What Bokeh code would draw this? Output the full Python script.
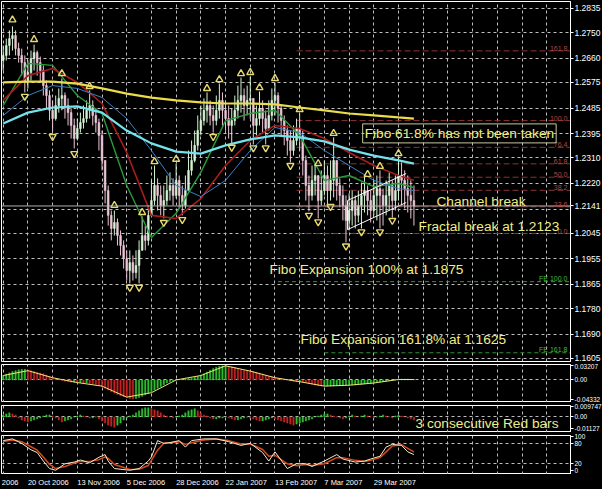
from bokeh.plotting import figure
from bokeh.models import Range1d, FixedTicker, Span, Label, ColumnDataSource, CustomJSTickFormatter
from bokeh.layouts import column
from bokeh.embed import file_html
from bokeh.resources import INLINE
from bokeh.core.properties import value

FONT = "Liberation Sans"

# ---------------- price data (daily bars) ----------------
first_open = 1.2652
closes = [1.2670,1.2705,1.2729,1.2740,1.2694,1.2670,1.2645,1.2582,1.2610,1.2659,
          1.2680,1.2645,1.2617,1.2564,1.2529,1.2477,1.2448,1.2494,1.2519,1.2529,
          1.2494,1.2469,1.2424,1.2378,1.2413,1.2434,1.2448,1.2477,1.2494,1.2459,
          1.2434,1.2389,1.2301,1.2195,1.2108,1.2062,1.2083,1.2037,1.2002,1.1956,
          1.1914,1.1942,1.1907,1.1932,1.1985,1.2037,1.2020,1.2108,1.2160,1.2213,
          1.2178,1.2143,1.2160,1.2195,1.2213,1.2178,1.2231,1.2178,1.2143,1.2195,
          1.2266,1.2301,1.2354,1.2406,1.2441,1.2477,1.2494,1.2459,1.2441,1.2477,
          1.2512,1.2477,1.2448,1.2424,1.2441,1.2477,1.2512,1.2529,1.2494,1.2512,
          1.2519,1.2424,1.2448,1.2484,1.2448,1.2413,1.2459,1.2512,1.2529,1.2484,
          1.2441,1.2406,1.2371,1.2336,1.2371,1.2413,1.2389,1.2301,1.2213,1.2178,
          1.2231,1.2248,1.2160,1.2195,1.2248,1.2195,1.2231,1.2301,1.2213,1.2178,
          1.2143,1.2090,1.2125,1.2160,1.2108,1.2143,1.2178,1.2195,1.2160,1.2125,
          1.2178,1.2202,1.2178,1.2143,1.2178,1.2213,1.2160,1.2195,1.2248,1.2231,
          1.2202,1.2178,1.2160,1.2141]
highs = [1.2705,1.2729,1.2758,1.2772,1.2758,1.2715,1.2694,1.2670,1.2652,1.2687,
         1.2708,1.2687,1.2666,1.2635,1.2582,1.2547,1.2512,1.2529,1.2554,1.2589,
         1.2540,1.2519,1.2484,1.2448,1.2448,1.2469,1.2494,1.2512,1.2547,1.2512,
         1.2484,1.2448,1.2406,1.2301,1.2213,1.2125,1.2125,1.2097,1.2055,1.2020,
         1.1985,1.1985,1.1967,1.1985,1.2020,1.2104,1.2072,1.2143,1.2231,1.2283,
         1.2238,1.2213,1.2213,1.2248,1.2259,1.2238,1.2290,1.2248,1.2213,1.2248,
         1.2336,1.2371,1.2406,1.2459,1.2494,1.2519,1.2540,1.2512,1.2494,1.2529,
         1.2571,1.2540,1.2512,1.2494,1.2484,1.2529,1.2564,1.2592,1.2554,1.2564,
         1.2596,1.2512,1.2494,1.2543,1.2512,1.2477,1.2512,1.2554,1.2575,1.2540,
         1.2494,1.2459,1.2424,1.2406,1.2424,1.2448,1.2466,1.2406,1.2318,1.2248,
         1.2283,1.2290,1.2248,1.2266,1.2301,1.2283,1.2301,1.2382,1.2301,1.2238,
         1.2213,1.2178,1.2185,1.2195,1.2178,1.2195,1.2223,1.2248,1.2213,1.2195,
         1.2231,1.2248,1.2266,1.2202,1.2231,1.2259,1.2231,1.2248,1.2311,1.2294,
         1.2266,1.2248,1.2231,1.2213]
lows = [1.2617,1.2652,1.2670,1.2687,1.2670,1.2645,1.2599,1.2540,1.2554,1.2582,
        1.2617,1.2599,1.2575,1.2529,1.2484,1.2441,1.2403,1.2441,1.2469,1.2477,
        1.2448,1.2424,1.2378,1.2343,1.2371,1.2399,1.2413,1.2434,1.2448,1.2424,
        1.2399,1.2336,1.2266,1.2150,1.2072,1.2020,1.2037,1.2002,1.1967,1.1921,
        1.1879,1.1869,1.1879,1.1886,1.1869,1.1985,1.1985,1.2002,1.2108,1.2143,
        1.2125,1.2108,1.2097,1.2143,1.2160,1.2143,1.2167,1.2132,1.2108,1.2132,
        1.2195,1.2248,1.2294,1.2336,1.2389,1.2424,1.2434,1.2424,1.2399,1.2424,
        1.2448,1.2424,1.2406,1.2378,1.2361,1.2424,1.2448,1.2469,1.2441,1.2459,
        1.2448,1.2357,1.2389,1.2424,1.2399,1.2357,1.2406,1.2441,1.2459,1.2434,
        1.2389,1.2354,1.2318,1.2294,1.2318,1.2354,1.2336,1.2248,1.2160,1.2122,
        1.2160,1.2178,1.2097,1.2143,1.2178,1.2136,1.2160,1.2171,1.2160,1.2136,
        1.2090,1.2013,1.2055,1.2072,1.2062,1.2083,1.2062,1.2118,1.2108,1.2083,
        1.2108,1.2090,1.2062,1.2072,1.2108,1.2125,1.2100,1.2125,1.2160,1.2143,
        1.2132,1.2118,1.2097,1.2072]

# moving averages, read at every 8th bar
ma_bars = [0, 8, 16, 24, 32, 40, 48, 56, 64, 72, 80, 88, 96, 104, 112, 120, 128, 133]
ma_yellow = [1.2575,1.2578,1.2578,1.2571,1.2554,1.2536,1.2522,1.2512,1.2505,1.2501,1.2501,1.2498,1.2487,1.2477,1.2466,1.2459,1.2452,1.2448]
ma_cyan = [1.2431,1.2469,1.2487,1.2491,1.2469,1.2406,1.2361,1.2332,1.2325,1.2354,1.2375,1.2389,1.2382,1.2368,1.2339,1.2318,1.2301,1.2290]
ma_blue = [1.2459,1.2529,1.2564,1.2554,1.2522,1.2448,1.2336,1.2213,1.2174,1.2231,1.2336,1.2417,1.2399,1.2336,1.2283,1.2231,1.2202,1.2195]
ma_red = [1.2512,1.2599,1.2624,1.2575,1.2501,1.2329,1.2108,1.2097,1.2167,1.2283,1.2371,1.2424,1.2413,1.2378,1.2329,1.2283,1.2248,1.2231]
ma_green = [1.2494,1.2642,1.2635,1.2529,1.2466,1.2213,1.2030,1.2115,1.2259,1.2441,1.2466,1.2477,1.2389,1.2231,1.2248,1.2209,1.2220,1.2206]

# fractals
up_frac_bars = [3, 10, 19, 28, 36, 45, 49, 56, 66, 70, 77, 80, 83, 88, 96, 102, 107, 118, 122, 128]
up_frac_price = [1.2795,1.2726,1.2606,1.2561,1.2143,1.2118,1.2297,1.2305,1.2554,1.2585,1.2606,1.2610,1.2557,1.2589,1.2480,1.2290,1.2396,1.2252,1.2280,1.2325]
dn_frac_bars = [7, 16, 23, 41, 44, 52, 58, 68, 74, 81, 85, 93, 99, 102, 106, 111, 116, 122, 126]
dn_frac_price = [1.2526,1.2385,1.2325,1.1855,1.1855,1.2083,1.2093,1.2385,1.2347,1.2345,1.2345,1.2283,1.2108,1.2085,1.2139,1.2000,1.2050,1.2050,1.2090]

# Fibonacci retracement & expansion
fibo_labels = ["161.8", "100.0", "76.4", "61.8", "50.0", "38.2", "23.6", "0.0"]
fibo_prices = [1.2686, 1.2441, 1.2347, 1.2289, 1.2242, 1.2196, 1.2138, 1.2044]
fibo_start = 95
fe_labels = ["FE 100.0", "FE 161.8"]
fe_prices = [1.1875, 1.1625]
fe_start = [89, 104]

# channel
channel_bars = [111.5, 130.5]
channel_upper = [1.2160, 1.2255]
channel_lower = [1.2058, 1.2153]

bid_price = 1.2141
grid_price_ticks = [1.2835,1.2750,1.2660,1.2575,1.2485,1.2395,1.2310,1.2220,1.2130,1.2045,1.1955,1.1865,1.1780,1.1690,1.1605]
axis_price_ticks = [1.2835,1.2750,1.2660,1.2575,1.2485,1.2395,1.2310,1.2220,1.2141,1.2045,1.1955,1.1865,1.1780,1.1690,1.1605]

# MACD
macd_hist = [0.010,0.013,0.016,0.019,0.021,0.023,0.024,0.024,
             0.022,0.021,0.019,0.017,0.016,0.014,0.011,0.008,
             0.005,0.003,0.001,-0.001,-0.003,-0.004,-0.005,-0.005,
             -0.006,-0.006,-0.007,-0.007,-0.008,-0.009,-0.010,-0.012,
             -0.015,-0.019,-0.023,-0.027,-0.030,-0.033,-0.036,-0.038,
             -0.040,-0.042,-0.043,-0.042,-0.040,-0.037,-0.034,-0.031,
             -0.027,-0.023,-0.019,-0.015,-0.011,-0.007,-0.004,-0.002,
             0.000,0.001,0.001,0.002,0.003,0.004,0.006,0.008,
             0.011,0.014,0.018,0.022,0.026,0.029,0.031,0.032,
             0.032,0.031,0.030,0.028,0.026,0.024,0.022,0.021,
             0.020,0.019,0.017,0.015,0.013,0.010,0.008,0.007,
             0.005,0.004,0.003,0.001,0.000,-0.002,-0.003,-0.004,
             -0.004,-0.005,-0.006,-0.008,-0.010,-0.012,-0.013,-0.014,
             -0.014,-0.014,-0.014,-0.014,-0.013,-0.013,-0.013,-0.012,
             -0.012,-0.011,-0.011,-0.010,-0.010,-0.009,-0.008,-0.008,
             -0.007,-0.006,-0.005,-0.004,-0.003,-0.002,-0.001,0.000,
             0.001,0.002,0.002,0.002,0.001,0.001]
macd_signal = [0.010,0.021,0.005,-0.006,-0.014,-0.039,-0.029,0.000,0.010,0.032,0.020,0.005,-0.004,-0.014,-0.012,-0.007,0.001,0.001]
macd_ticks = [0.03207, 0.0, -0.04332]
macd_tick_labels = ["0.03207", "0.00", "-0.04332"]

# OsMA
osma = [0.002,0.003,0.004,0.003,0.002,
        -0.001,-0.003,-0.004,-0.005,-0.004,-0.003,-0.002,-0.001,
        0.001,0.002,0.002,0.001,
        -0.001,-0.003,-0.005,-0.004,-0.003,-0.002,
        0.000,0.001,0.002,0.001,0.000,-0.001,-0.001,0.000,
        -0.002,-0.004,-0.006,-0.008,-0.009,-0.010,-0.008,-0.006,
        -0.003,-0.001,0.001,0.002,
        0.004,0.006,0.008,0.009,0.009,0.008,0.007,0.006,
        0.004,0.002,0.001,0.000,-0.001,0.000,0.001,0.002,
        0.004,0.006,0.007,0.008,0.006,0.004,0.002,0.001,
        -0.001,-0.002,-0.002,-0.001,-0.001,0.000,-0.001,-0.002,
        -0.003,-0.003,-0.002,-0.001,0.000,-0.001,-0.002,-0.003,
        -0.004,-0.004,-0.003,-0.002,-0.001,-0.002,-0.003,-0.004,
        -0.005,-0.006,-0.007,-0.008,-0.007,-0.006,-0.005,-0.004,
        -0.003,-0.002,0.000,0.001,0.002,0.003,0.003,0.002,
        0.001,0.000,-0.001,-0.002,-0.001,0.001,0.002,0.001,
        0.000,0.001,0.002,0.001,0.000,-0.001,0.000,0.001,
        0.002,0.001,0.000,-0.001,0.001,0.002,0.001,0.000,
        -0.001,-0.002,-0.003]
osma_ticks = [0.009747, 0.0, -0.01127]
osma_tick_labels = ["0.009747", "0.00", "-0.01127"]

# Stochastic
stoch_bars = [0,3,6,9,11,13,15,17,20,23,25,28,31,33,34,36,41,44,47,48,
              50,52,54,57,59,61,65,69,73,77,80,84,86,88,92,95,98,100,104,108,
              110,114,117,119,122,124,126,129,131,133]
stoch_k = [88,93,80,61,53,28,6,1,20,25,31,23,39,47,28,6,1,6,28,40,
           88,80,82,88,69,88,93,93,85,74,80,53,28,55,6,20,20,12,28,47,
           34,25,28,34,42,69,77,74,55,47]
stoch_d = [85,90,85,70,60,40,18,6,12,22,27,27,32,40,36,18,3,4,15,30,
           60,80,82,85,77,82,90,93,88,78,78,62,42,45,20,14,18,15,20,38,
           38,30,27,30,38,55,72,76,65,55]
stoch_ticks = [100, 80, 20, 0]
stoch_levels = [80, 20]

# dates
date_bars = [-0.45, 8, 24, 40, 56, 72, 88, 104, 120]
date_labels = ["2006", "20 Oct 2006", "13 Nov 2006", "5 Dec 2006", "28 Dec 2006",
               "22 Jan 2007", "13 Feb 2007", "7 Mar 2007", "29 Mar 2007"]
grid_bars = list(range(0, 184, 8))

notes_main = [("Fibo 61.8% has not been taken", 116.4, 1.2396, True),
              ("Channel break", 140.3, 1.2157, False),
              ("Fractal break at 1.2123", 134.5, 1.2069, False),
              ("Fibo Expansion 100% at 1.1875", 86.2, 1.1918, False),
              ("Fibo Expansion 161.8% at 1.1625", 96.3, 1.1672, False)]
note_osma = ("3 consecutive Red bars", 133.5, -0.0066)

# ---------------- styling ----------------
GRID = "#bdbdbd"
TXT = "#eeee86"
UPC = "#d4f2d4"
DNC = "#ecc6d6"
XR = Range1d(-0.55, 183.7)
FW = 569


def fmt(ticks, labels):
    return CustomJSTickFormatter(args=dict(t=ticks, l=labels), code="""
        let b = 0, bd = 1e9;
        for (let i = 0; i < t.length; i++) { const d = Math.abs(t[i] - tick); if (d < bd) { bd = d; b = i; } }
        return l[b];""")


def base(fh, y0, y1, ticks, labels, gticks, top=3, bottom=0, fs="6.5px"):
    p = figure(frame_width=FW, frame_height=fh, x_range=XR, y_range=Range1d(y0, y1),
               x_axis_location=None, y_axis_location="right", toolbar_location=None,
               output_backend="svg", background_fill_color="black", border_fill_color="black",
               outline_line_color="white", outline_line_width=1,
               min_border_left=1, min_border_right=0, min_border_top=top, min_border_bottom=bottom)
    p.xgrid.ticker = FixedTicker(ticks=grid_bars)
    p.ygrid.ticker = FixedTicker(ticks=gticks)
    for g in (p.xgrid, p.ygrid):
        g.grid_line_color = GRID
        g.grid_line_dash = "3 3"
        g.grid_line_width = 1
    ax = p.yaxis[0]
    ax.ticker = FixedTicker(ticks=ticks, minor_ticks=[])
    ax.formatter = fmt(ticks, labels)
    ax.major_label_text_color = "white"
    ax.major_label_text_font = FONT
    ax.major_label_text_font_size = fs
    ax.major_tick_line_color = "white"
    ax.major_tick_out = 3
    ax.major_tick_in = 0
    ax.major_label_standoff = 1
    ax.minor_tick_line_color = None
    ax.axis_line_color = "white"
    return p


# ---------------- main chart ----------------
n = len(closes)
idx = list(range(n))
opens = [first_open] + closes[:-1]
hi = [max(h, o, c) for h, o, c in zip(highs, opens, closes)]
lo = [min(l, o, c) for l, o, c in zip(lows, opens, closes)]
col = [UPC if c >= o else DNC for o, c in zip(opens, closes)]
src = ColumnDataSource(dict(x=idx, hi=hi, lo=lo, top=[max(o, c) for o, c in zip(opens, closes)],
                            bot=[min(o, c) for o, c in zip(opens, closes)], col=col))

pm = base(360, 1.15944, 1.28595, axis_price_ticks, [f"{t:.4f}" for t in axis_price_ticks],
          grid_price_ticks, top=1, bottom=2, fs="8.5px")

pm.add_layout(Span(location=bid_price, dimension="width", line_color="#b0b0b0", line_width=1))

for lab, pr in zip(fibo_labels, fibo_prices):
    pm.segment(x0=fibo_start, y0=pr, x1=XR.end, y1=pr, line_color="#8c3232", line_dash="6 3", line_width=1)
    pm.add_layout(Label(x=XR.end - 1.0, y=pr, text=lab, text_align="right", text_baseline="bottom",
                        text_font=FONT, text_font_size="7px", text_color="#b04848"))
for lab, pr, st in zip(fe_labels, fe_prices, fe_start):
    pm.segment(x0=st, y0=pr, x1=XR.end, y1=pr, line_color="#2c9a2c", line_dash="4 3", line_width=1)
    pm.add_layout(Label(x=XR.end - 1.0, y=pr, text=lab, text_align="right", text_baseline="bottom",
                        text_font=FONT, text_font_size="7px", text_color="#3cbc3c"))

pm.segment(x0="x", y0="lo", x1="x", y1="hi", line_color="col", line_width=1, source=src)
pm.vbar(x="x", width=0.55, top="top", bottom="bot", fill_color="col", line_color="col", line_width=0.6, source=src)

pm.line(ma_bars, ma_green, line_color="#2a9a3a", line_width=1.4)
pm.line(ma_bars, ma_red, line_color="#a81c1c", line_width=1.6)
pm.line(ma_bars, ma_blue, line_color="#3a80c4", line_width=1)
pm.line(ma_bars, ma_cyan, line_color="#74e2ea", line_width=2.2)
pm.line(ma_bars, ma_yellow, line_color="#eadc4a", line_width=2.2)

pm.line(channel_bars, channel_upper, line_color="white", line_width=1)
pm.line(channel_bars, channel_lower, line_color="white", line_width=1)
pm.line([channel_bars[0], channel_bars[0]], [channel_lower[0], channel_upper[0]], line_color="white", line_width=1)

pm.scatter(up_frac_bars, up_frac_price, marker="triangle", size=7, line_color="#e8d870",
           fill_color=None, line_width=1.4)
pm.scatter(dn_frac_bars, dn_frac_price, marker="inverted_triangle", size=7, line_color="#e8d870",
           fill_color=None, line_width=1.4)

for text, bx, by, boxed in notes_main:
    kw = dict(border_line_color="#c8c8a0", border_line_width=1, padding=2) if boxed else {}
    pm.add_layout(Label(x=bx, y=by, text=text, text_align="left", text_baseline="middle",
                        text_font=FONT, text_font_size="13.7px", text_color=TXT, **kw))

# ---------------- MACD ----------------
pmac = base(38, -0.0512, 0.0350, macd_ticks, macd_tick_labels, [0.0], top=1)
mcol = ["#2fbf2f" if i == 0 or macd_hist[i] >= macd_hist[i - 1] else "#c42424" for i in range(n)]
pmac.vbar(x=idx, width=0.45, top=macd_hist, bottom=0, fill_color=mcol, line_color=mcol, line_width=0.5)
pmac.line(ma_bars, macd_signal, line_color="#f0e27a", line_width=1)

# ---------------- OsMA ----------------
pos = base(27, -0.0152, 0.0112, osma_ticks, osma_tick_labels, [0.0])
ocol = ["#2fbf2f" if i == 0 or osma[i] >= osma[i - 1] else "#c42424" for i in range(n)]
pos.vbar(x=idx, width=0.45, top=osma, bottom=0, fill_color=ocol, line_color=ocol, line_width=0.5)
pos.add_layout(Label(x=note_osma[1], y=note_osma[2], text=note_osma[0], text_align="left",
                     text_baseline="middle", text_font=FONT, text_font_size="13.7px", text_color=TXT))

# ---------------- Stochastic ----------------
pst = base(39, -11.5, 103, stoch_ticks, [str(t) for t in stoch_ticks], stoch_levels)
pst.line(stoch_bars, stoch_d, line_color="#d8481c", line_width=1.5)
pst.line(stoch_bars, stoch_k, line_color="#f4ecd0", line_width=1)

# ---------------- date strip ----------------
pdt = figure(frame_width=FW, frame_height=15, x_range=XR, y_range=Range1d(-1, 1),
             x_axis_location=None, y_axis_location=None, toolbar_location=None,
             output_backend="svg", background_fill_color="black", border_fill_color="black",
             outline_line_color=None, min_border_left=1, min_border_right=0,
             min_border_top=0, min_border_bottom=0)
pdt.xgrid.visible = False
pdt.ygrid.visible = False
pdt.text(x=date_bars, y=[0] * len(date_bars), text=date_labels, text_align="left",
         text_baseline="middle", text_font=value(FONT), text_font_size="7.5px", text_color="white")

layout = column(pm, pmac, pos, pst, pdt, spacing=0)
layout.styles = {"background-color": "black"}

open("out.html", "w").write(file_html(layout, INLINE, "EURUSD chart"))
